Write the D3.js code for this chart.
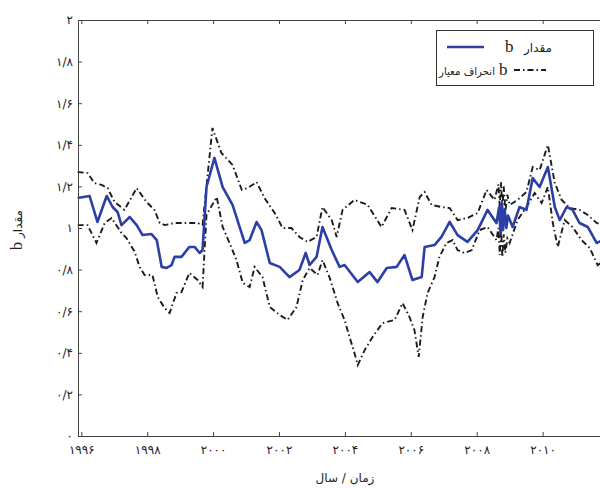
<!DOCTYPE html>
<html>
<head>
<meta charset="utf-8">
<script src="https://cdn.jsdelivr.net/npm/d3@7"></script>
<style>
  body { margin: 0; background: #fff; }
  svg { display: block; }
  .fa { font-family: "DejaVu Sans", sans-serif; }
  .lat { font-family: "Liberation Serif", serif; }
</style>
</head>
<body>
<div id="viz"></div>
<script>
// mean b (blue solid)
var meanYears = [1995.89, 1996.25, 1996.49, 1996.77, 1996.95, 1997.10, 1997.22, 1997.47, 1997.68, 1997.86,
    1998.13, 1998.29, 1998.44, 1998.59, 1998.74, 1998.83, 1999.04, 1999.28, 1999.44, 1999.59, 1999.68,
    1999.80, 2000.04, 2000.29, 2000.59, 2000.96, 2001.11, 2001.32, 2001.47, 2001.72, 2002.02, 2002.32,
    2002.62, 2002.81, 2002.93, 2003.14, 2003.32, 2003.60, 2003.84, 2003.99, 2004.39, 2004.75, 2004.99,
    2005.27, 2005.57, 2005.81, 2006.05, 2006.33, 2006.42, 2006.72, 2006.93, 2007.18, 2007.42, 2007.72,
    2008.03, 2008.33, 2008.60, 2008.68, 2008.72, 2008.76, 2008.80, 2008.85, 2008.90, 2008.95, 2009.09,
    2009.30, 2009.51, 2009.70, 2009.91, 2010.16, 2010.37, 2010.52, 2010.73, 2010.91, 2011.12, 2011.37,
    2011.64, 2011.82];
var meanValues = [1.144, 1.154, 1.029, 1.154, 1.101, 1.077, 1.014, 1.053, 1.014, 0.966,
    0.971, 0.942, 0.813, 0.808, 0.822, 0.861, 0.861, 0.909, 0.909, 0.880, 0.894,
    1.197, 1.337, 1.197, 1.111, 0.928, 0.942, 1.029, 0.990, 0.832, 0.813, 0.764,
    0.798, 0.880, 0.822, 0.861, 1.005, 0.894, 0.813, 0.822, 0.740, 0.788, 0.740,
    0.808, 0.813, 0.870, 0.750, 0.764, 0.909, 0.918, 0.957, 1.029, 0.966, 0.933,
    0.990, 1.087, 1.024, 1.100, 0.980, 1.120, 0.990, 1.090, 1.000, 1.060, 1.005,
    1.101, 1.087, 1.240, 1.197, 1.293, 1.101, 1.038, 1.101, 1.087, 1.024, 1.005,
    0.928, 0.942];

// upper band (mean + sd), dash-dot
var upperYears = [1995.89, 1996.19, 1996.40, 1996.62, 1996.80, 1997.01, 1997.31, 1997.68, 1997.98, 1998.22,
    1998.38, 1998.53, 1998.83, 1999.14, 1999.53, 1999.68, 1999.98, 2000.25, 2000.59, 2000.87, 2001.05,
    2001.32, 2001.56, 2001.87, 2002.11, 2002.38, 2002.62, 2002.87, 2003.14, 2003.32, 2003.60, 2003.75,
    2003.93, 2004.29, 2004.69, 2005.11, 2005.42, 2005.81, 2006.05, 2006.27, 2006.42, 2006.63, 2006.93,
    2007.18, 2007.42, 2007.72, 2008.03, 2008.30, 2008.54, 2008.66, 2008.70, 2008.74, 2008.78, 2008.82,
    2008.87, 2008.93, 2009.00, 2009.24, 2009.51, 2009.70, 2009.91, 2010.16, 2010.37, 2010.58, 2010.82,
    2011.12, 2011.37, 2011.64, 2011.82];
var upperValues = [1.269, 1.264, 1.216, 1.207, 1.192, 1.125, 1.087, 1.192, 1.125, 1.087,
    1.024, 1.014, 1.024, 1.024, 1.024, 1.014, 1.481, 1.361, 1.303, 1.183, 1.192,
    1.221, 1.144, 1.072, 1.000, 1.000, 0.957, 0.933, 0.957, 1.101, 1.038, 0.957,
    1.087, 1.135, 1.111, 1.005, 1.096, 1.087, 0.990, 1.149, 1.173, 1.111, 1.101,
    1.096, 1.038, 1.048, 1.072, 1.183, 1.135, 1.210, 1.100, 1.220, 1.090, 1.200,
    1.080, 1.160, 1.111, 1.135, 1.173, 1.293, 1.279, 1.399, 1.216, 1.135, 1.096,
    1.087, 1.063, 1.024, 1.014];

// lower band (mean - sd), dash-dot
var lowerYears = [1995.89, 1996.19, 1996.46, 1996.71, 1996.92, 1997.22, 1997.37, 1997.62, 1997.77, 1997.92,
    1998.16, 1998.32, 1998.53, 1998.68, 1998.89, 1999.04, 1999.28, 1999.53, 1999.68, 1999.80, 2000.11,
    2000.29, 2000.50, 2000.71, 2000.90, 2001.11, 2001.26, 2001.50, 2001.72, 2002.02, 2002.26, 2002.53,
    2002.72, 2002.93, 2003.17, 2003.32, 2003.54, 2003.78, 2003.99, 2004.14, 2004.29, 2004.39, 2004.60,
    2004.84, 2005.14, 2005.51, 2005.75, 2005.96, 2006.11, 2006.24, 2006.36, 2006.51, 2006.72, 2006.87,
    2007.08, 2007.27, 2007.42, 2007.63, 2007.85, 2008.09, 2008.33, 2008.60, 2008.66, 2008.70, 2008.74,
    2008.78, 2008.82, 2008.87, 2008.93, 2009.00, 2009.24, 2009.51, 2009.76, 2009.97, 2010.16, 2010.31,
    2010.46, 2010.67, 2010.91, 2011.18, 2011.43, 2011.67, 2011.82];
var lowerValues = [1.014, 1.014, 0.928, 1.024, 1.048, 0.976, 0.952, 0.885, 0.813, 0.774,
    0.774, 0.668, 0.615, 0.591, 0.688, 0.692, 0.784, 0.750, 0.716, 1.063, 1.149,
    1.005, 0.928, 0.846, 0.736, 0.716, 0.813, 0.764, 0.620, 0.582, 0.558, 0.620,
    0.750, 0.808, 0.774, 0.846, 0.760, 0.639, 0.558, 0.476, 0.399, 0.341, 0.413,
    0.476, 0.543, 0.558, 0.639, 0.572, 0.510, 0.380, 0.572, 0.688, 0.764, 0.861,
    0.928, 0.942, 0.894, 0.880, 0.894, 0.990, 1.005, 0.942, 1.000, 0.870, 0.990,
    0.860, 0.970, 0.880, 0.950, 0.928, 1.038, 1.101, 1.168, 1.120, 1.197, 1.024,
    0.909, 1.038, 1.005, 0.942, 0.904, 0.822, 0.837];

var xTicks = [1996, 1998, 2000, 2002, 2004, 2006, 2008, 2010];
var yTicks = [0, 0.2, 0.4, 0.6, 0.8, 1, 1.2, 1.4, 1.6, 1.8, 2];

var legendMean = "مقدار";
var legendSd = "انحراف معیار";
var xLabel = "زمان / سال";
var yLabel = "مقدار";

var W = 600, H = 488;
var blue = "#2b3fa6";
var dashDot = "6,3,1.5,3";

// persian digits, '/' as decimal mark
var faDigits = "۰۱۲۳۴۵۶۷۸۹";
function toFa(s) {
    return String(s).replace(/[0-9]/g, function(d) { return faDigits[+d]; });
}
function yFmt(v) {
    var s = v.toFixed(1).replace(/\.0$/, "").replace(".", "/");
    return toFa(s);
}

var svg = d3.select("#viz").append("svg")
    .attr("width", W)
    .attr("height", H);

var x = d3.scaleLinear().domain([1995.9, 2012]).range([78, 608.5]);
var y = d3.scaleLinear().domain([0, 2]).range([436, 20]);

function pairs(xs, vs) {
    return xs.map(function(t, i) { return [t, vs[i]]; });
}

var line = d3.line()
    .x(function(d) { return x(d[0]); })
    .y(function(d) { return y(d[1]); });

var plot = svg.append("g");

plot.append("path")
    .datum(pairs(upperYears, upperValues))
    .attr("d", line)
    .attr("fill", "none")
    .attr("stroke", "#1c1c1c")
    .attr("stroke-width", 1.9)
    .attr("stroke-dasharray", dashDot);

plot.append("path")
    .datum(pairs(lowerYears, lowerValues))
    .attr("d", line)
    .attr("fill", "none")
    .attr("stroke", "#1c1c1c")
    .attr("stroke-width", 1.9)
    .attr("stroke-dasharray", dashDot);

plot.append("path")
    .datum(pairs(meanYears, meanValues))
    .attr("d", line)
    .attr("fill", "none")
    .attr("stroke", blue)
    .attr("stroke-width", 2.6)
    .attr("stroke-linejoin", "round");

// axes, matlab style inward ticks
var gx = svg.append("g")
    .attr("transform", "translate(0," + y(0) + ")")
    .call(d3.axisBottom(x).tickValues(xTicks).tickFormat(toFa)
        .tickSizeInner(-4).tickSizeOuter(0).tickPadding(9));

var gTop = svg.append("g")
    .attr("transform", "translate(0," + y(2) + ")")
    .call(d3.axisTop(x).tickValues(xTicks).tickFormat("")
        .tickSizeInner(-4).tickSizeOuter(0));

var gy = svg.append("g")
    .attr("transform", "translate(" + x.range()[0] + ",0)")
    .call(d3.axisLeft(y).tickValues(yTicks).tickFormat(yFmt)
        .tickSizeInner(-4).tickSizeOuter(0).tickPadding(5));

[gx, gTop, gy].forEach(function(g) {
    g.select(".domain").attr("stroke", "#444").attr("stroke-width", 1);
    g.selectAll(".tick line").attr("stroke", "#444");
    g.selectAll("text").attr("class", "fa").attr("font-size", 12)
        .attr("letter-spacing", 1.2).attr("fill", "#222");
});

// axis labels
svg.append("text")
    .attr("class", "fa")
    .attr("x", 345).attr("y", 482)
    .attr("text-anchor", "middle")
    .attr("font-size", 12)
    .attr("fill", "#222")
    .text(xLabel);

var yl = svg.append("g").attr("transform", "translate(22,224) rotate(-90)");
yl.append("text")
    .attr("class", "lat")
    .attr("x", -26).attr("y", 0)
    .attr("font-size", 16)
    .attr("fill", "#222")
    .text("b");
yl.append("text")
    .attr("class", "fa")
    .attr("x", -14).attr("y", 0)
    .attr("font-size", 12)
    .attr("fill", "#222")
    .text(yLabel);

// legend
var lg = svg.append("g");
lg.append("rect")
    .attr("x", 436.5).attr("y", 30.5)
    .attr("width", 157).attr("height", 55)
    .attr("fill", "#fff")
    .attr("stroke", "#333")
    .attr("stroke-width", 1);

lg.append("line")
    .attr("x1", 447).attr("x2", 484)
    .attr("y1", 47).attr("y2", 47)
    .attr("stroke", blue).attr("stroke-width", 2.6);
lg.append("text")
    .attr("class", "lat")
    .attr("x", 505).attr("y", 52)
    .attr("font-size", 17).attr("fill", "#222")
    .text("b");
lg.append("text")
    .attr("class", "fa")
    .attr("x", 524).attr("y", 52)
    .attr("font-size", 12).attr("fill", "#222")
    .text(legendMean);

lg.append("text")
    .attr("class", "fa")
    .attr("x", 439).attr("y", 75)
    .attr("font-size", 11).attr("fill", "#222")
    .attr("textLength", 56).attr("lengthAdjust", "spacingAndGlyphs")
    .text(legendSd);
lg.append("text")
    .attr("class", "lat")
    .attr("x", 499).attr("y", 75)
    .attr("font-size", 17).attr("fill", "#222")
    .text("b");
lg.append("line")
    .attr("x1", 514).attr("x2", 546)
    .attr("y1", 70).attr("y2", 70)
    .attr("stroke", "#1c1c1c").attr("stroke-width", 1.9)
    .attr("stroke-dasharray", dashDot);
</script>
</body>
</html>
